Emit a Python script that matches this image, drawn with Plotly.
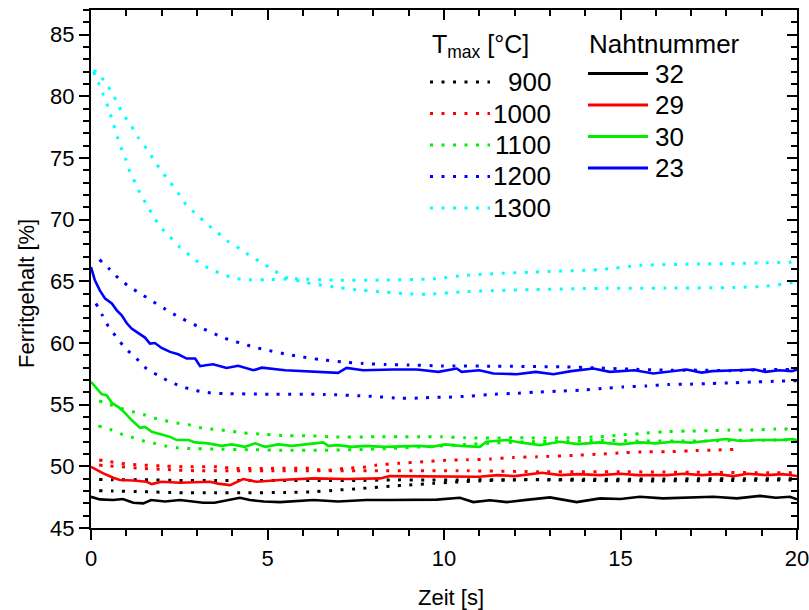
import plotly.graph_objects as go

# ---------------- data ----------------
# Tmax = 1300 °C (two dotted curves)
t1300a_x = [0.07, 0.21, 0.33, 0.5, 0.63, 0.76, 0.87, 0.99, 1.10, 1.25, 1.39, 1.58, 1.77, 1.95, 2.24, 2.50, 2.80, 3.11, 3.42, 3.73, 4.05, 4.36, 4.98, 5.78, 6.86, 8.19, 9.7, 10.64, 12.5, 14.4, 15.6, 17.25, 19.1, 20.0]
t1300a_y = [82.0, 81.1, 80.25, 79.0, 77.8, 76.6, 75.7, 74.85, 73.9, 73.0, 72.15, 71.2, 70.3, 69.45, 68.6, 67.8, 67.1, 66.4, 65.95, 65.57, 65.27, 65.14, 65.14, 65.2, 65.1, 65.1, 65.2, 65.5, 65.75, 65.95, 66.3, 66.4, 66.5, 66.56]
t1300b_x = [0.07, 0.18, 0.40, 0.61, 0.76, 0.94, 1.15, 1.34, 1.58, 1.78, 2.0, 2.24, 2.47, 2.69, 2.99, 3.28, 3.59, 3.91, 4.22, 4.53, 4.84, 5.15, 5.45, 6.09, 7.03, 7.67, 8.3, 8.92, 9.5, 10.64, 12.5, 14.4, 16.3, 18.2, 19.1, 19.8, 20.0]
t1300b_y = [82.05, 82.0, 81.1, 80.25, 79.33, 78.44, 77.55, 76.64, 75.75, 74.85, 73.93, 73.04, 72.15, 71.23, 70.42, 69.67, 68.94, 68.18, 67.65, 67.02, 66.51, 65.95, 65.4, 64.9, 64.49, 64.27, 64.14, 64.0, 63.95, 64.17, 64.33, 64.43, 64.45, 64.5, 64.6, 64.86, 64.9]

# Tmax = 1200 °C
t1200a_x = [0.24, 0.54, 0.82, 1.13, 1.45, 1.77, 2.08, 2.40, 3.02, 3.65, 3.96, 4.29, 4.6, 4.91, 5.54, 5.85, 6.47, 7.1, 7.71, 8.36, 8.99, 9.93, 11.49, 13.38, 14.33, 15.27, 16.21, 17.16, 18.1, 19.33, 20.0]
t1200a_y = [66.76, 65.95, 65.14, 64.49, 63.92, 63.33, 62.79, 62.25, 61.36, 60.55, 60.22, 59.95, 59.68, 59.47, 59.09, 58.93, 58.66, 58.47, 58.34, 58.26, 58.22, 58.14, 58.12, 58.06, 57.98, 57.88, 57.8, 57.8, 57.76, 57.85, 57.85]
t1200b_x = [0.14, 0.32, 0.49, 0.73, 0.98, 1.29, 1.58, 1.91, 2.22, 2.54, 2.85, 3.16, 3.46, 3.78, 5.05, 6.63, 7.87, 8.8, 9.44, 9.76, 10.08, 10.69, 11.3, 11.96, 12.58, 13.19, 13.85, 14.47, 15.08, 15.74, 16.35, 16.97, 17.58, 18.2, 18.86, 19.47, 20.0]
t1200b_y = [63.2, 62.25, 61.36, 60.44, 59.55, 58.74, 57.9, 57.36, 56.87, 56.5, 56.23, 56.04, 55.93, 55.9, 55.85, 55.83, 55.69, 55.52, 55.55, 55.6, 55.6, 55.69, 55.83, 55.91, 56.01, 56.09, 56.17, 56.31, 56.44, 56.52, 56.64, 56.66, 56.72, 56.77, 56.85, 56.9, 56.95]

# Tmax = 1100 °C
t1100a_x = [0.23, 0.54, 0.85, 1.18, 1.51, 1.81, 2.12, 2.43, 2.76, 3.07, 3.39, 3.70, 4.31, 4.93, 5.59, 6.18, 6.82, 8.07, 8.71, 9.32, 9.93, 10.6, 12.0, 13.5, 14.4, 14.99, 15.6, 16.21, 16.87, 17.49, 18.1, 18.76, 19.37, 20.0]
t1100a_y = [55.31, 55.0, 54.69, 54.42, 54.18, 53.9, 53.7, 53.52, 53.38, 53.15, 53.02, 52.94, 52.72, 52.59, 52.48, 52.48, 52.39, 52.39, 52.39, 52.39, 52.4, 52.31, 52.31, 52.31, 52.4, 52.53, 52.67, 52.8, 52.86, 52.88, 52.94, 52.94, 53.02, 53.02]
t1100b_x = [0.21, 0.54, 0.87, 1.18, 1.51, 1.81, 2.12, 2.43, 2.76, 3.5, 4.5, 5.5, 6.5, 7.5, 8.5, 9.5, 10.5, 11.5, 12.5, 13.5, 14.5, 15.5, 17.0, 18.5, 20.0]
t1100b_y = [53.28, 52.99, 52.61, 52.34, 52.04, 51.86, 51.64, 51.5, 51.45, 51.4, 51.35, 51.3, 51.3, 51.35, 51.45, 51.6, 51.75, 51.9, 52.0, 52.05, 52.1, 52.05, 52.05, 52.1, 52.15]

# Tmax = 1000 °C
t1000a_x = [0.23, 0.54, 0.87, 1.15, 1.48, 2.12, 2.76, 3.70, 3.98, 4.93, 6.2, 6.49, 6.82, 7.15, 7.81, 8.09, 8.71, 9.42, 9.98, 10.64, 11.3, 11.96, 12.63, 13.85, 14.42, 15.08, 15.74, 16.31, 16.97, 17.63, 18.2]
t1000a_y = [50.51, 50.37, 50.24, 50.16, 50.1, 50.02, 49.96, 49.96, 49.83, 49.83, 49.83, 49.7, 49.7, 49.83, 49.96, 50.1, 50.24, 50.37, 50.48, 50.53, 50.59, 50.72, 50.77, 50.91, 50.99, 51.1, 51.18, 51.18, 51.26, 51.32, 51.37]
t1000b_x = [0.23, 0.54, 0.87, 1.48, 2.12, 2.43, 3.04, 5.0, 8.0, 10.64, 12.9, 15.0, 17.0, 19.42, 20.0]
t1000b_y = [50.1, 50.02, 49.96, 49.83, 49.75, 49.7, 49.64, 49.64, 49.64, 49.64, 49.56, 49.56, 49.52, 49.48, 49.48]

# Tmax = 900 °C
t900a_x = [0.23, 0.6, 1.5, 2.5, 3.5, 4.5, 5.5, 6.5, 7.5, 8.5, 9.5, 10.5, 12.0, 14.0, 16.0, 18.0, 20.0]
t900a_y = [48.94, 48.92, 48.92, 48.85, 48.85, 48.85, 48.85, 48.85, 48.85, 48.9, 48.9, 48.9, 48.92, 48.95, 48.97, 49.0, 49.0]
t900b_x = [0.23, 0.6, 1.5, 2.5, 3.5, 4.4, 5.5, 6.3, 7.0, 7.7, 8.5, 9.0, 9.7, 10.3, 11.0, 12.0, 13.0, 14.0, 16.0, 18.0, 20.0]
t900b_y = [48.02, 48.0, 47.94, 47.86, 47.86, 47.86, 47.88, 47.94, 48.08, 48.21, 48.4, 48.48, 48.62, 48.72, 48.82, 48.9, 48.9, 48.85, 48.82, 48.85, 48.9]

# Nahtnummer (measured, solid)
n23_x = [0.0, 0.11, 0.25, 0.40, 0.59, 0.73, 0.87, 1.01, 1.15, 1.34, 1.53, 1.67, 1.81, 2.0, 2.24, 2.47, 2.71, 2.95, 3.09, 3.25, 3.46, 3.84, 4.17, 4.6, 4.84, 5.5, 6.3, 7.0, 7.24, 7.71, 8.56, 9.23, 9.84, 10.36, 10.5, 11.0, 11.4, 12.06, 12.6, 13.1, 13.6, 14.23, 14.7, 15.4, 15.93, 16.5, 16.87, 17.3, 17.6, 18.3, 18.8, 19.1, 19.5, 19.85, 20.0]
n23_y = [66.16, 65.08, 64.27, 63.6, 63.2, 62.65, 62.25, 61.62, 61.17, 60.81, 60.44, 59.95, 60.0, 59.6, 59.28, 59.09, 58.74, 58.74, 58.12, 58.2, 58.28, 57.98, 58.15, 57.79, 58.0, 57.79, 57.66, 57.58, 57.98, 57.79, 57.85, 57.85, 57.66, 57.93, 57.66, 57.79, 57.53, 57.47, 57.66, 57.47, 57.72, 57.93, 57.66, 57.79, 57.53, 57.72, 57.85, 57.6, 57.72, 57.79, 57.85, 57.66, 57.79, 57.72, 57.85]
n30_x = [0.0, 0.16, 0.30, 0.44, 0.59, 0.77, 0.96, 1.15, 1.39, 1.53, 1.72, 2.0, 2.24, 2.43, 2.76, 2.95, 3.32, 3.70, 3.99, 4.36, 4.65, 4.93, 5.31, 5.7, 6.1, 6.58, 6.72, 7.0, 7.38, 7.8, 8.3, 8.9, 9.3, 9.65, 10.03, 10.45, 11.02, 11.2, 11.78, 12.15, 12.72, 13.29, 13.8, 14.4, 14.99, 15.55, 16.0, 16.5, 17.0, 17.44, 18.0, 18.4, 18.9, 19.52, 19.9, 20.0]
n30_y = [56.85, 56.31, 55.85, 55.77, 55.15, 54.82, 54.34, 53.75, 53.12, 53.2, 52.8, 52.59, 52.39, 52.13, 52.13, 51.94, 51.86, 51.66, 51.78, 51.58, 51.86, 51.58, 51.78, 51.66, 51.78, 51.94, 51.66, 51.72, 51.58, 51.66, 51.58, 51.66, 51.66, 51.58, 51.78, 51.66, 51.58, 51.99, 52.13, 51.94, 51.72, 51.99, 51.8, 51.94, 51.78, 51.94, 51.86, 51.99, 51.92, 52.05, 52.21, 52.05, 52.13, 52.13, 52.21, 52.05]
n29_x = [0.0, 0.16, 0.35, 0.63, 0.82, 1.2, 1.58, 1.72, 2.0, 2.52, 3.0, 3.37, 3.6, 3.94, 4.31, 4.69, 5.35, 6.3, 7.24, 8.19, 8.47, 9.13, 10.07, 10.64, 11.0, 11.5, 12.0, 12.77, 13.3, 13.8, 14.42, 15.0, 15.5, 16.31, 16.8, 17.3, 17.73, 18.2, 18.6, 19.14, 19.6, 20.0]
n29_y = [49.96, 49.7, 49.43, 49.07, 48.89, 48.85, 48.75, 48.56, 48.75, 48.67, 48.7, 48.75, 48.6, 48.48, 48.97, 48.75, 48.89, 49.02, 48.97, 49.02, 49.21, 49.21, 49.21, 49.21, 49.15, 49.29, 49.21, 49.48, 49.29, 49.37, 49.29, 49.4, 49.29, 49.29, 49.4, 49.29, 49.37, 49.21, 49.4, 49.29, 49.37, 49.21]
n32_x = [0.0, 0.25, 0.63, 0.9, 1.2, 1.48, 1.7, 2.1, 2.52, 2.8, 3.18, 3.5, 3.9, 4.22, 4.5, 4.9, 5.35, 6.3, 7.0, 7.8, 8.5, 9.2, 9.8, 10.45, 10.83, 11.3, 11.78, 12.4, 13.0, 13.76, 14.42, 15.0, 15.55, 16.2, 16.9, 17.63, 18.3, 18.95, 19.4, 19.8, 20.0]
n32_y = [47.53, 47.32, 47.27, 47.35, 47.05, 47.0, 47.27, 47.15, 47.27, 47.2, 47.05, 47.05, 47.3, 47.45, 47.27, 47.15, 47.1, 47.27, 47.15, 47.27, 47.27, 47.27, 47.3, 47.45, 47.1, 47.25, 47.1, 47.3, 47.48, 47.1, 47.4, 47.35, 47.53, 47.4, 47.45, 47.53, 47.4, 47.6, 47.45, 47.53, 47.32]

tmax_labels = ["900", "1000", "1100", "1200", "1300"]
tmax_colors = ["#000000", "#ff0000", "#00ee00", "#0000ff", "#00ffff"]
naht_labels = ["32", "29", "30", "23"]
naht_colors = ["#000000", "#ff0000", "#00ee00", "#0000ff"]

x_ticks = [0, 5, 10, 15, 20]
y_ticks = [45, 50, 55, 60, 65, 70, 75, 80, 85]

# ---------------- figure ----------------
FONT = "Liberation Sans, Arial, sans-serif"
DOT = "3px,8.5px"
W, H = 809, 610
L, R, T, B = 91, 12, 10, 82
PW, PH = W - L - R, H - T - B

def px(x):
    return (x - L) / PW

def py(y):
    return (H - B - y) / PH

fig = go.Figure()

dotted = [
    (t900a_x, t900a_y, 0), (t900b_x, t900b_y, 0),
    (t1000a_x, t1000a_y, 1), (t1000b_x, t1000b_y, 1),
    (t1100a_x, t1100a_y, 2), (t1100b_x, t1100b_y, 2),
    (t1200a_x, t1200a_y, 3), (t1200b_x, t1200b_y, 3),
    (t1300a_x, t1300a_y, 4), (t1300b_x, t1300b_y, 4),
]
for xs, ys, ci in dotted:
    fig.add_trace(go.Scatter(x=xs, y=ys, mode="lines", showlegend=False,
                             line=dict(color=tmax_colors[ci], width=3, dash=DOT, shape="spline", smoothing=0.6)))

solid = [(n32_x, n32_y, 0), (n29_x, n29_y, 1), (n30_x, n30_y, 2), (n23_x, n23_y, 3)]
for k, (xs, ys, ci) in enumerate(solid):
    last = (k == len(solid) - 1)
    # the last solid series is drawn on the (identical) mirror axes so that they get rendered
    fig.add_trace(go.Scatter(x=xs, y=ys, mode="lines", showlegend=False,
                             xaxis="x2" if last else "x", yaxis="y2" if last else "y",
                             line=dict(color=naht_colors[ci], width=2.6)))

axis_common = dict(showgrid=False, zeroline=False, showline=True, linecolor="black", linewidth=2,
                   tickcolor="black", tickwidth=2, ticklen=10, automargin=False,
                   tickfont=dict(family=FONT, size=22, color="black"))

fig.update_layout(
    width=W, height=H, margin=dict(l=L, r=R, t=T, b=B, autoexpand=False),
    plot_bgcolor="white", paper_bgcolor="white", showlegend=False,
    font=dict(family=FONT, color="black"),
    xaxis=dict(range=[0, 20], tickvals=x_ticks, ticks="outside", ticklabeloverflow="allow",
               minor=dict(dtick=1, ticks="outside", ticklen=6, tickwidth=2, tickcolor="black"),
               **axis_common),
    yaxis=dict(range=[45, 87], tickvals=y_ticks, ticks="outside", ticklabeloverflow="allow",
               minor=dict(dtick=1, ticks="outside", ticklen=6, tickwidth=2, tickcolor="black"),
               **axis_common),
    xaxis2=dict(range=[0, 20], overlaying="x", side="top", anchor="y2", tickvals=x_ticks, ticks="inside",
                showticklabels=False,
                minor=dict(dtick=1, ticks="inside", ticklen=6, tickwidth=2, tickcolor="black"),
                **axis_common),
    yaxis2=dict(range=[45, 87], overlaying="y", side="right", anchor="x2", tickvals=y_ticks, ticks="inside",
                showticklabels=False,
                minor=dict(dtick=1, ticks="inside", ticklen=6, tickwidth=2, tickcolor="black"),
                **axis_common),
)

annotations = []
shapes = []
# axis titles
annotations.append(dict(text="Zeit [s]", x=px(451), y=py(597), xref="paper", yref="paper",
                        showarrow=False, xanchor="center", yanchor="middle",
                        font=dict(family=FONT, size=22, color="black")))
annotations.append(dict(text="Ferritgehalt [%]", x=px(26), y=py(294), xref="paper", yref="paper",
                        showarrow=False, xanchor="center", yanchor="middle", textangle=-90,
                        font=dict(family=FONT, size=22, color="black")))

LEG_FONT = dict(family=FONT, size=26, color="black")
# legend 1: Tmax
annotations.append(dict(text="T<sub>max</sub> [°C]", x=px(430), y=py(46), xref="paper", yref="paper",
                        showarrow=False, xanchor="left", yanchor="middle",
                        font=dict(family=FONT, size=25, color="black")))
row_y1 = [82, 113.5, 145, 176.5, 208]
for i, lab in enumerate(tmax_labels):
    yy = py(row_y1[i])
    shapes.append(dict(type="line", xref="paper", yref="paper", x0=px(430), x1=px(490), y0=yy, y1=yy,
                       line=dict(color=tmax_colors[i], width=3, dash=DOT)))
    annotations.append(dict(text=lab, x=px(553), y=yy, xref="paper", yref="paper", showarrow=False,
                            xanchor="right", yanchor="middle", font=LEG_FONT))
# legend 2: Nahtnummer
annotations.append(dict(text="Nahtnummer", x=px(587), y=py(44), xref="paper", yref="paper",
                        showarrow=False, xanchor="left", yanchor="middle", font=LEG_FONT))
row_y2 = [73.5, 105, 136.5, 168]
for i, lab in enumerate(naht_labels):
    yy = py(row_y2[i])
    shapes.append(dict(type="line", xref="paper", yref="paper", x0=px(588), x1=px(648), y0=yy, y1=yy,
                       line=dict(color=naht_colors[i], width=3)))
    annotations.append(dict(text=lab, x=px(653), y=yy, xref="paper", yref="paper", showarrow=False,
                            xanchor="left", yanchor="middle", font=LEG_FONT))

fig.update_layout(annotations=annotations, shapes=shapes)
fig.write_html("out.html", config={"displayModeBar": False},
               post_script="document.body.style.margin='0';document.body.style.overflow='hidden';")
